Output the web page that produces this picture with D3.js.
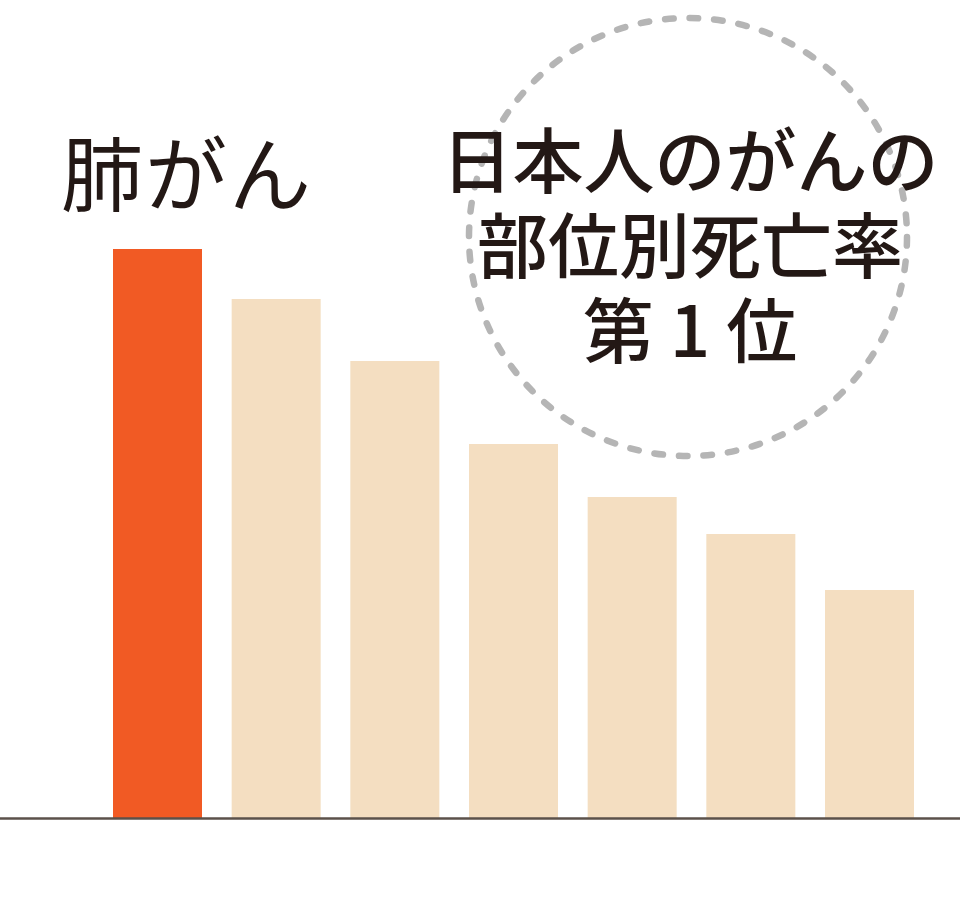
<!DOCTYPE html>
<html>
<head>
<meta charset="utf-8">
<script src="https://cdn.jsdelivr.net/npm/d3@7"></script>
<style>
  html, body { margin: 0; padding: 0; background: #ffffff; }
  svg { display: block; }
</style>
</head>
<body>
<svg id="chart" width="960" height="900"></svg>
<script>
// ---- data (arbitrary units) ----
const categories = ["肺", "大腸", "胃", "膵臓", "肝臓", "胆のう・胆管", "乳房"];
const values = [569, 519, 457, 374, 321, 284, 228];
const highlight = "肺";
const highlightLabel = "肺がん";
const badgeLines = ["日本人のがんの", "部位別死亡率", "第 1 位"];

// ---- layout ----
const svg = d3.select("#chart");
const baseY = 818;
const x = d3.scaleBand()
  .domain(categories)
  .range([113, 914])
  .paddingInner(0.25)
  .paddingOuter(0);
const y = d3.scaleLinear()
  .domain([0, 600])
  .range([baseY, baseY - 600]);

// bars
svg.append("g").selectAll("rect")
  .data(categories.map((c, i) => ({ c, v: values[i] })))
  .join("rect")
  .attr("x", d => x(d.c))
  .attr("y", d => y(d.v))
  .attr("width", x.bandwidth())
  .attr("height", d => y(0) - y(d.v))
  .attr("fill", d => d.c === highlight ? "#F15A24" : "#F4DEC1");

// baseline
svg.append("line")
  .attr("x1", 0).attr("x2", 960)
  .attr("y1", y(0) + 0.5).attr("y2", y(0) + 0.5)
  .attr("stroke", "#5b514a")
  .attr("stroke-width", 2.5);

// highlight label
svg.append("text")
  .attr("x", 61)
  .attr("y", 169)
  .attr("dominant-baseline", "central")
  .attr("font-family", "'Noto Sans CJK JP', 'Noto Sans', sans-serif")
  .attr("font-weight", 400)
  .attr("font-size", 82)
  .attr("letter-spacing", 2)
  .attr("fill", "#231815")
  .text(highlightLabel);

// dashed circle badge
const cx = 688, cy = 237, r = 219;
svg.append("circle")
  .attr("cx", cx).attr("cy", cy).attr("r", r)
  .attr("fill", "none")
  .attr("stroke", "#b5b5b5")
  .attr("stroke-width", 6.5)
  .attr("stroke-linecap", "round")
  .attr("stroke-dasharray", "8.6 16");

svg.append("g").selectAll("text")
  .data(badgeLines)
  .join("text")
  .attr("x", cx + 2)
  .attr("y", (d, i) => 156 + i * 85)
  .attr("text-anchor", "middle")
  .attr("dominant-baseline", "central")
  .attr("font-family", "'Noto Sans CJK JP', 'Noto Sans', sans-serif")
  .attr("font-weight", 500)
  .attr("font-size", 71)
  .attr("fill", "#231815")
  .text(d => d);
</script>
</body>
</html>
